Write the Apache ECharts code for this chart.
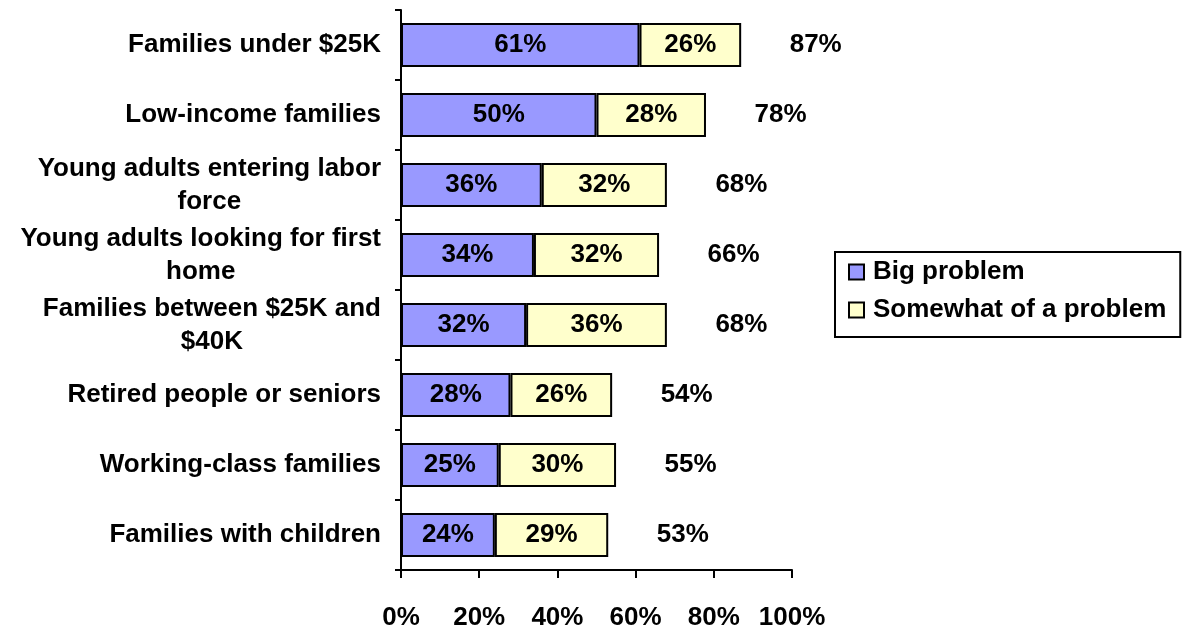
<!DOCTYPE html>
<html lang="en">
<head>
    <meta charset="UTF-8">
    <title>Problem groups</title>
    <script src="https://cdn.jsdelivr.net/npm/echarts@6/dist/echarts.min.js"></script>
    <style>
        html, body { margin: 0; padding: 0; background: #fff; }
    </style>
</head>
<body>
    <div id="main" style="width: 1186px;height: 631px"></div>
    <script type="application/javascript">
        var categories = [
            'Families under $25K',
            'Low-income families',
            'Young adults entering labor\nforce',
            'Young adults looking for first\nhome',
            'Families between $25K and\n$40K',
            'Retired people or seniors',
            'Working-class families',
            'Families with children'
        ];
        var bigProblem = [61, 50, 36, 34, 32, 28, 25, 24];
        var somewhatProblem = [26, 28, 32, 32, 36, 26, 30, 29];
        var totals = [87, 78, 68, 66, 68, 54, 55, 53];
        var xTicks = [0, 20, 40, 60, 80, 100];

        var FONT = '"Liberation Sans", Arial, sans-serif';
        var FS = 26;

        // totals sit to the right of each bar
        var totalPoints = [];
        for (var i = 0; i < totals.length; i++) {
            totalPoints.push([totals[i], i]);
        }

        var myChart = echarts.init(document.getElementById('main'));
        var option = {
            animation: false,
            textStyle: { fontFamily: FONT, fontWeight: 'bold', color: '#000' },
            grid: { left: 401, right: 394, top: 10, bottom: 60, containLabel: false },
            legend: {
                data: ['Big problem', 'Somewhat of a problem'],
                orient: 'vertical',
                left: 835,
                top: 252,
                padding: [7, 14, 14, 13],
                itemGap: 12,
                itemWidth: 15,
                itemHeight: 15,
                icon: 'rect',
                borderColor: '#000',
                borderWidth: 2,
                textStyle: {
                    fontFamily: FONT, fontWeight: 'bold', fontSize: FS,
                    color: '#000', lineHeight: 26, padding: [0, 0, 0, 4]
                }
            },
            xAxis: {
                type: 'value',
                min: xTicks[0],
                max: xTicks[xTicks.length - 1],
                interval: 20,
                splitLine: { show: false },
                axisLine: { show: true, lineStyle: { color: '#000', width: 2 } },
                axisTick: { show: true, length: 8, lineStyle: { color: '#000', width: 2 } },
                axisLabel: {
                    margin: 35,
                    formatter: '{value}%',
                    fontFamily: FONT, fontWeight: 'bold', fontSize: FS, color: '#000'
                }
            },
            yAxis: {
                type: 'category',
                inverse: true,
                data: categories,
                axisLine: { show: true, lineStyle: { color: '#000', width: 2 } },
                axisTick: { show: true, length: 6, lineStyle: { color: '#000', width: 2 } },
                axisLabel: {
                    margin: 20,
                    formatter: function (v) {
                        return v.split('\n').map(function (s) { return '{c|' + s + '}'; }).join('\n');
                    },
                    rich: {
                        c: {
                            align: 'center',
                            fontFamily: FONT, fontWeight: 'bold', fontSize: FS,
                            color: '#000', lineHeight: 33
                        }
                    }
                }
            },
            series: [
                {
                    name: 'Big problem',
                    type: 'bar',
                    stack: 'all',
                    barWidth: 44,
                    data: bigProblem,
                    itemStyle: { color: '#9999FF', borderColor: '#000', borderWidth: 2 },
                    label: {
                        show: true, position: 'inside', formatter: '{c}%',
                        fontFamily: FONT, fontWeight: 'bold', fontSize: FS, color: '#000'
                    }
                },
                {
                    name: 'Somewhat of a problem',
                    type: 'bar',
                    stack: 'all',
                    barWidth: 44,
                    data: somewhatProblem,
                    itemStyle: { color: '#FFFFCC', borderColor: '#000', borderWidth: 2 },
                    label: {
                        show: true, position: 'inside', formatter: '{c}%',
                        fontFamily: FONT, fontWeight: 'bold', fontSize: FS, color: '#000'
                    }
                },
                {
                    name: 'Total',
                    type: 'scatter',
                    data: totalPoints,
                    symbolSize: 1,
                    itemStyle: { color: 'rgba(0,0,0,0)', opacity: 1 },
                    label: {
                        show: true, position: 'right', distance: 48,
                        formatter: function (p) { return p.value[0] + '%'; },
                        fontFamily: FONT, fontWeight: 'bold', fontSize: FS, color: '#000'
                    }
                }
            ]
        };
        myChart.setOption(option, true);
    </script>
</body>
</html>
